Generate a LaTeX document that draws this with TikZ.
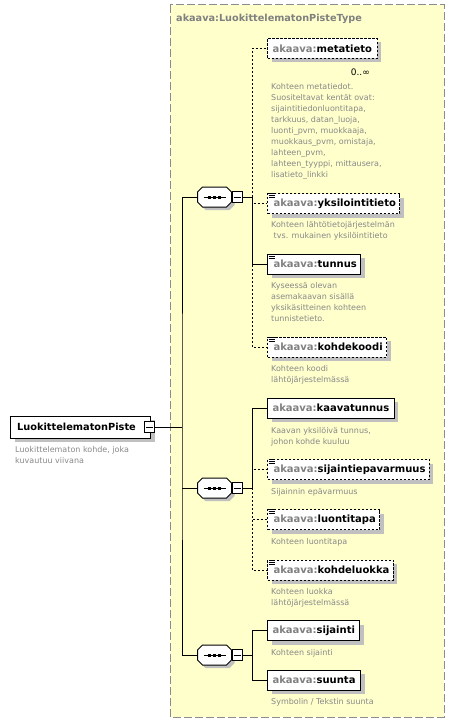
\documentclass[tikz,border=0pt]{standalone}
\usepackage{fontspec}
\setmainfont{DejaVu Sans}
\usepackage{xcolor}
\usepackage{tikz}
\usetikzlibrary{positioning,shadows}
\definecolor{typeyellow}{HTML}{FFFFCC}
\definecolor{framegray}{HTML}{8C8C8C}
\definecolor{prefixgray}{HTML}{808080}
\definecolor{notegray}{HTML}{888888}
\definecolor{shadowgray}{HTML}{C0C0C0}
\newcommand{\akaava}[1]{\textcolor{prefixgray}{akaava:}#1}

\begin{document}
\begin{tikzpicture}[
  x=1pt,y=-1pt,
  every node/.style={font=\fontsize{10}{12}\selectfont\bfseries},
  elemnode/.style={draw=black,line width=1pt,fill=white,inner xsep=5pt,inner ysep=0pt,minimum height=20pt,anchor=west,
    drop shadow={shadow xshift=4pt,shadow yshift=-4pt,fill=shadowgray,opacity=1}},
  optnode/.style={elemnode,dash pattern=on 2.5pt off 1.5pt},
  docnode/.style={inner xsep=4pt,execute at begin node={\hspace*{2pt}}},
  note/.style={font=\fontsize{8}{11}\selectfont,text=notegray,align=left,inner sep=0pt},
  seqnode/.style={minimum width=34pt,minimum height=20pt,inner sep=0pt},
  seqshape/.style={insert path={([shift={(-17pt,-5pt)}]#1) -- ([shift={(-12pt,-10pt)}]#1) -- ([shift={(12pt,-10pt)}]#1)
    -- ([shift={(17pt,-5pt)}]#1) -- ([shift={(17pt,5pt)}]#1) -- ([shift={(12pt,10pt)}]#1)
    -- ([shift={(-12pt,10pt)}]#1) -- ([shift={(-17pt,5pt)}]#1) -- cycle}},
  minusnode/.style={draw=black,line width=1pt,fill=white,minimum width=10pt,minimum height=11pt,inner sep=0pt,
    path picture={\draw[line width=1pt] ([xshift=-3.5pt]path picture bounding box.center) -- ([xshift=3.5pt]path picture bounding box.center);}},
  conn/.style={line width=1pt,draw=black},
  optconn/.style={conn,dash pattern=on 2pt off 2pt}
]
\useasboundingbox (0,0) rectangle (455,725);

\draw[framegray,fill=typeyellow,line width=1pt,dash pattern=on 8pt off 3pt] (170,5) rectangle (444,717);
\node[anchor=west,text=prefixgray,inner sep=0pt,font=\fontsize{9.7}{12}\selectfont\bfseries] (typetitle) at (176,19) {akaava:LuokittelematonPisteType};

\node[elemnode,minimum width=140pt,minimum height=22pt,font=\fontsize{9.8}{12}\selectfont\bfseries] (root) at (10,427) {LuokittelematonPiste\hspace*{8pt}};
\node[minusnode] (rootm) at (149.5,427) {};
\node[note,below right=8pt and 5pt of root.south west] (rootnote) {Luokittelematon kohde, joka\\kuvautuu viivana};

\node[seqnode] (seq1) at (214.5,197) {};
\node[seqnode] (seq2) at (214.5,488) {};
\node[seqnode] (seq3) at (214.5,655) {};
\foreach \s in {seq1,seq2,seq3}{
  \coordinate (\s shadow) at ([shift={(3pt,-3pt)}]\s.center);
  \fill[shadowgray] [seqshape=\s shadow];
  \draw[line width=1pt,fill=white] [seqshape=\s.center];
  \draw[line width=1pt] ([xshift=-11pt]\s.center) -- ([xshift=11pt]\s.center);
  \foreach \dotpos in {-5,0,5}
    \fill ([xshift=\dotpos pt]\s.center) +(-1.5pt,-1.5pt) rectangle +(1.5pt,1.5pt);
}
\node[minusnode] (seq1m) at (237,197) {};
\node[minusnode] (seq2m) at (237,488) {};
\node[minusnode] (seq3m) at (237,655) {};

\coordinate (trunk) at (182,427);
\coordinate (branch1) at (252,197);
\coordinate (branch2) at (252,488);
\coordinate (branch3) at (252,655);

\node[optnode] (metatieto) at (267,48.5) {\akaava{metatieto}};
\node[anchor=east,inner sep=0pt,font=\fontsize{9}{11}\selectfont] (metamult) at (370,72) {0..∞};
\node[note,below right=24pt and 4pt of metatieto.south west] (metatietonote) {Kohteen metatiedot.\\Suositeltavat kentät ovat:\\sijaintitiedonluontitapa,\\tarkkuus, datan\_luoja,\\luonti\_pvm, muokkaaja,\\muokkaus\_pvm, omistaja,\\lahteen\_pvm,\\lahteen\_tyyppi, mittausera,\\lisatieto\_linkki};

\node[optnode,docnode] (yksilointitieto) at (267,203.5) {\akaava{yksilointitieto}};
\node[note,below right=7pt and 4pt of yksilointitieto.south west] (yksilointitietonote) {Kohteen lähtötietojärjestelmän\\~tvs. mukainen yksilöintitieto};

\node[elemnode,docnode] (tunnus) at (267,264) {\akaava{tunnus}};
\node[note,below right=8pt and 4pt of tunnus.south west] (tunnusnote) {Kyseessä olevan\\asemakaavan sisällä\\yksikäsitteinen kohteen\\tunnistetieto.};

\node[optnode,docnode] (kohdekoodi) at (267,347) {\akaava{kohdekoodi}};
\node[note,below right=8pt and 4pt of kohdekoodi.south west] (kohdekoodinote) {Kohteen koodi\\lähtöjärjestelmässä};

\node[elemnode] (kaavatunnus) at (267,408) {\akaava{kaavatunnus}};
\node[note,below right=9pt and 4pt of kaavatunnus.south west] (kaavatunnusnote) {Kaavan yksilöivä tunnus,\\johon kohde kuuluu};

\node[optnode,docnode] (sijaintiepavarmuus) at (267,469.5) {\akaava{sijaintiepavarmuus}};
\node[note,below right=8pt and 4pt of sijaintiepavarmuus.south west] (sijaintiepavarmuusnote) {Sijainnin epävarmuus};

\node[optnode,docnode] (luontitapa) at (267,519.5) {\akaava{luontitapa}};
\node[note,below right=8pt and 4pt of luontitapa.south west] (luontitapanote) {Kohteen luontitapa};

\node[optnode,docnode] (kohdeluokka) at (267,570) {\akaava{kohdeluokka}};
\node[note,below right=8pt and 4pt of kohdeluokka.south west] (kohdeluokkanote) {Kohteen luokka\\lähtöjärjestelmässä};

\node[elemnode] (sijainti) at (267,630.5) {\akaava{sijainti}};
\node[note,below right=8pt and 4pt of sijainti.south west] (sijaintinote) {Kohteen sijainti};

\node[elemnode] (suunta) at (267,680) {\akaava{suunta}};
\node[note,below right=8pt and 4pt of suunta.south west] (suuntanote) {Symbolin / Tekstin suunta};

\foreach \n in {yksilointitieto,tunnus,kohdekoodi,sijaintiepavarmuus,luontitapa,kohdeluokka}
  \foreach \k in {0.5,2.5,4.5}
    \draw[line width=0.8pt] ([shift={(1.5pt,-\k pt)}]\n.north west) -- ++(6pt,0pt);

\draw[conn] (rootm.east) -- (trunk);
\draw[conn] (seq1.west) -| (trunk) |- (seq3.west);
\draw[conn] (trunk |- seq2.west) -- (seq2.west);

\draw[conn] (seq1m.east) -- (branch1);
\draw[optconn] (branch1) |- (metatieto.west);
\draw[optconn] (branch1) |- (yksilointitieto.west);
\draw[optconn] (branch1) |- (kohdekoodi.west);
\draw[conn] (branch1) |- (tunnus.west);

\draw[conn] (seq2m.east) -- (branch2);
\draw[optconn] (branch2) |- (sijaintiepavarmuus.west);
\draw[optconn] (branch2) |- (luontitapa.west);
\draw[optconn] (branch2) |- (kohdeluokka.west);
\draw[conn] (branch2) |- (kaavatunnus.west);

\draw[conn] (seq3m.east) -- (branch3);
\draw[conn] (branch3) |- (sijainti.west);
\draw[conn] (branch3) |- (suunta.west);
\end{tikzpicture}
\end{document}
